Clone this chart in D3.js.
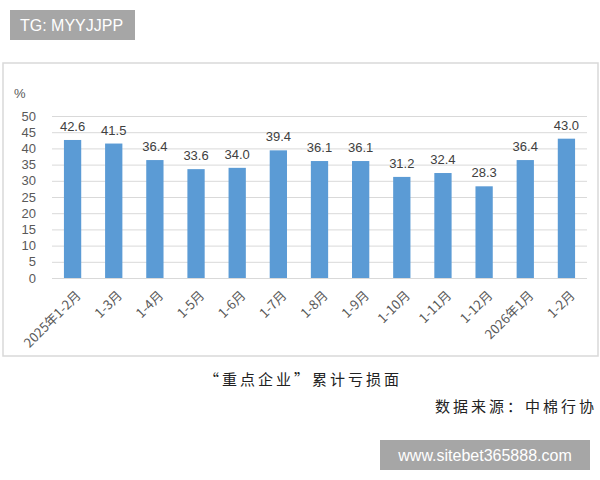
<!DOCTYPE html>
<html>
<head>
<meta charset="utf-8">
<script src="https://cdn.jsdelivr.net/npm/d3@7"></script>
<style>
  body { margin: 0; background: #fff; }
</style>
</head>
<body>
<div id="chart"></div>
<script>
const categories = ["2025年1-2月", "1-3月", "1-4月", "1-5月", "1-6月", "1-7月", "1-8月",
  "1-9月", "1-10月", "1-11月", "1-12月", "2026年1月", "1-2月"];
const lossRate = [42.6, 41.5, 36.4, 33.6, 34.0, 39.4, 36.1, 36.1, 31.2, 32.4, 28.3, 36.4, 43.0];
const yTicks = [0, 5, 10, 15, 20, 25, 30, 35, 40, 45, 50];

const width = 600, height = 480;
const marginLeft = 52, marginRight = 13, plotTop = 116, plotBottom = 278;
const barColor = "#5b9bd5";
const textColor = "#595959";
const font = "'Noto Sans CJK SC', 'Noto Sans', sans-serif";
const numFont = "'Liberation Sans', Arial, sans-serif";

const svg = d3.select("#chart")
  .append("svg")
  .attr("width", width)
  .attr("height", height)
  .attr("viewBox", [0, 0, width, height]);

// chart frame
svg.append("rect")
  .attr("x", 3).attr("y", 63)
  .attr("width", 595).attr("height", 293)
  .attr("fill", "#fff")
  .attr("stroke", "#d9d9d9")
  .attr("stroke-width", 1.5);

const x = d3.scaleBand(categories, [marginLeft, width - marginRight])
  .paddingInner(0.58)
  .paddingOuter(0.29);
const y = d3.scaleLinear([0, 50], [plotBottom, plotTop]);

// gridlines
svg.append("g")
  .selectAll("line")
  .data(yTicks)
  .join("line")
  .attr("x1", marginLeft)
  .attr("x2", width - marginRight)
  .attr("y1", d => y(d) + 0.5)
  .attr("y2", d => y(d) + 0.5)
  .attr("stroke", "#d9d9d9")
  .attr("stroke-width", 1);

// y axis
svg.append("g")
  .attr("transform", `translate(${marginLeft - 12},0)`)
  .call(d3.axisLeft(y).tickValues(yTicks).tickSize(0).tickPadding(4))
  .call(g => g.select(".domain").remove())
  .call(g => g.selectAll(".tick text")
    .attr("font-size", 13)
    .attr("font-family", numFont)
    .attr("fill", textColor));

svg.append("text")
  .attr("x", 14).attr("y", 98)
  .attr("font-size", 13)
  .attr("font-family", numFont)
  .attr("fill", textColor)
  .text("%");

// bars
svg.append("g")
  .selectAll("rect")
  .data(categories)
  .join("rect")
  .attr("x", (d) => x(d))
  .attr("y", (d, i) => y(lossRate[i]))
  .attr("width", x.bandwidth())
  .attr("height", (d, i) => y(0) - y(lossRate[i]))
  .attr("fill", barColor);

// value labels
svg.append("g")
  .selectAll("text")
  .data(categories)
  .join("text")
  .attr("x", (d) => x(d) + x.bandwidth() / 2)
  .attr("y", (d, i) => y(lossRate[i]) - 9)
  .attr("text-anchor", "middle")
  .attr("font-size", 13)
  .attr("font-family", numFont)
  .attr("fill", "#404040")
  .text((d, i) => lossRate[i].toFixed(1));

// x axis
svg.append("g")
  .attr("transform", `translate(0,${plotBottom})`)
  .call(d3.axisBottom(x).tickSize(0).tickPadding(0))
  .call(g => g.select(".domain").remove())
  .call(g => g.selectAll(".tick text")
    .attr("font-size", 13)
    .attr("font-family", font)
    .attr("fill", textColor)
    .attr("text-anchor", "end")
    .attr("dy", "0.35em")
    .attr("transform", "translate(6,15) rotate(-45)"));

// caption
svg.append("text")
  .attr("x", 303).attr("y", 385)
  .attr("text-anchor", "middle")
  .attr("font-size", 15)
  .attr("font-family", font)
  .attr("letter-spacing", 3)
  .attr("fill", "#222")
  .text("“重点企业”累计亏损面");

svg.append("text")
  .attr("x", 597).attr("y", 412)
  .attr("text-anchor", "end")
  .attr("font-size", 15)
  .attr("font-family", font)
  .attr("letter-spacing", 3)
  .attr("fill", "#222")
  .text("数据来源：中棉行协");

// watermarks
svg.append("rect")
  .attr("x", 10).attr("y", 10).attr("width", 125).attr("height", 30)
  .attr("fill", "#a6a6a6");
svg.append("text")
  .attr("x", 20).attr("y", 31)
  .attr("font-size", 16)
  .attr("font-family", numFont)
  .attr("fill", "#fff")
  .text("TG: MYYJJPP");

svg.append("rect")
  .attr("x", 380).attr("y", 440).attr("width", 210).attr("height", 30)
  .attr("fill", "#a6a6a6");
svg.append("text")
  .attr("x", 485).attr("y", 461)
  .attr("text-anchor", "middle")
  .attr("font-size", 16)
  .attr("font-family", numFont)
  .attr("fill", "#fff")
  .text("www.sitebet365888.com");
</script>
</body>
</html>
